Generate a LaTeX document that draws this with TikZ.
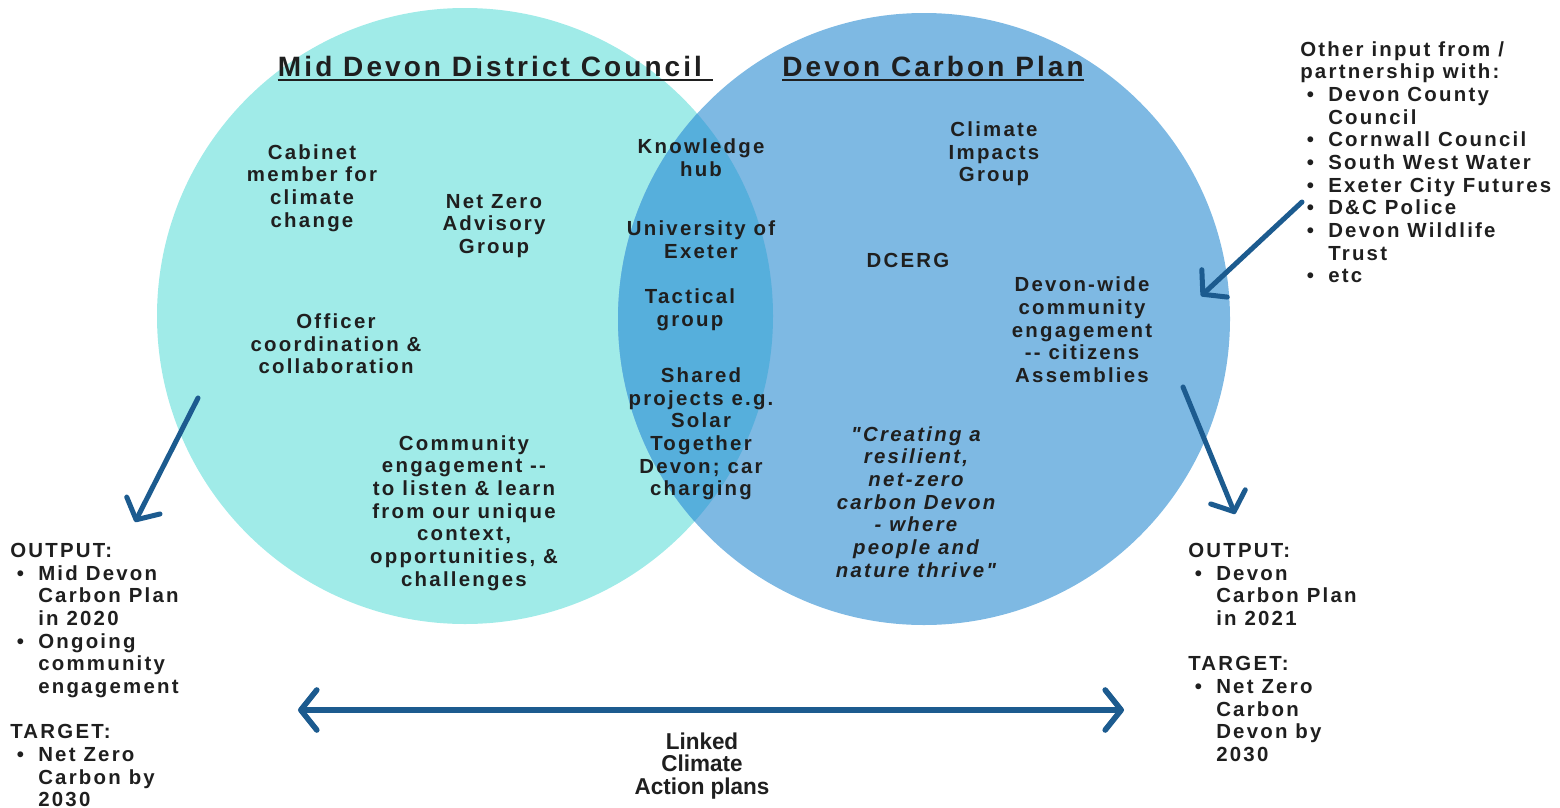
\documentclass[tikz,border=0pt]{standalone}
\usepackage{fontspec}
\setmainfont{Liberation Sans}[LetterSpace=11, Ligatures=TeXOff]
\newfontfamily\narrowfont{Liberation Sans}[FakeStretch=0.98]
\usetikzlibrary{arrows.meta}

\definecolor{leftc}{HTML}{A0EBE8}
\definecolor{rightc}{HTML}{7EB9E3}
\definecolor{overc}{HTML}{56AFDC}
\definecolor{arrowc}{HTML}{1C5B8F}
\definecolor{ink}{HTML}{1F1F1F}

% list helpers: bullet box and hanging indent
\newcommand{\itm}{\makebox[21pt][l]{\hspace{5pt}•}}
\newcommand{\ind}{\hspace*{21pt}}

\begin{document}
\begin{tikzpicture}[x=0.75pt,y=-0.75pt,
  body/.style={font=\bfseries\fontsize{15.3}{17}\selectfont, text=ink, align=center, inner sep=0pt},
  quote/.style={font=\bfseries\itshape\fontsize{15.3}{17}\selectfont, text=ink, align=center, inner sep=0pt},
  listbox/.style={font=\bfseries\fontsize{15.3}{17}\selectfont, text=ink, align=left, inner sep=0pt, anchor=north west},
  heading/.style={font=\bfseries\fontsize{21}{22}\selectfont, text=ink, inner sep=0pt, anchor=base},
  uline/.style={draw=ink, line width=2.2pt},
  linkfont/.style={font=\narrowfont\bfseries\fontsize{17.2}{17}\selectfont, text=ink, align=center, inner sep=0pt},
  arr/.style={draw=arrowc, line width=3.75pt, line cap=round,
    -{Straight Barb[length=12pt,width=28pt,round]}},
  dblarr/.style={draw=arrowc, line width=4.2pt, line cap=round,
    {Straight Barb[length=12pt,width=30pt,round]}-{Straight Barb[length=12pt,width=30pt,round]}}
]
\useasboundingbox (0,0) rectangle (1560,807);

% the two circles and their overlap
\fill[leftc] (465,316) circle[radius=231pt];
\fill[rightc] (924,319) circle[radius=229.5pt];
\begin{scope}
  \clip (465,316) circle[radius=231pt];
  \fill[overc] (924,319) circle[radius=229.5pt];
\end{scope}

% headings
\node[heading] (mddc) at (490,76) {Mid Devon District Council};
\draw[uline] ([yshift=-3pt]mddc.base west) -- ([yshift=-3pt,xshift=8pt]mddc.base east);
\node[heading] (dcp) at (933,76) {Devon Carbon Plan};
\draw[uline] ([yshift=-3pt]dcp.base west) -- ([yshift=-3pt]dcp.base east);

% left circle
\node[body] (cab) at (312,188) {Cabinet\\member for\\climate\\change};
\node[body] (nzag) at (494,226) {Net Zero\\Advisory\\Group};
\node[body] (off) at (336,344) {Officer\\coordination \&\\collaboration};
\node[body] (comm) at (464,513) {Community\\engagement --\\to listen \& learn\\from our unique\\context,\\opportunities, \&\\challenges};

% overlap
\node[body] (kh) at (701,158) {Knowledge\\hub};
\node[body] (uoe) at (701,240) {University of\\Exeter};
\node[body] (tac) at (690,310) {Tactical\\group};
\node[body] (shared) at (701,434) {Shared\\projects e.g.\\Solar\\Together\\Devon; car\\charging};

% right circle
\node[body] (cig) at (994,154) {Climate\\Impacts\\Group};
\node[body] (dcerg) at (908,260) {DCERG};
\node[body] (dwce) at (1082,330) {Devon-wide\\community\\engagement\\-- citizens\\Assemblies};
\node[quote] (vision) at (916,502) {"Creating a\\resilient,\\net-zero\\carbon Devon\\- where\\people and\\nature thrive"};

% side lists
\node[listbox] (other) at (1300,41) {Other input from /\\partnership with:\\
  \itm Devon County\\ \ind Council\\
  \itm Cornwall Council\\
  \itm South West Water\\
  \itm Exeter City Futures\\
  \itm D\&C Police\\
  \itm Devon Wildlife\\ \ind Trust\\
  \itm etc};

\node[listbox] (outl) at (10,543) {OUTPUT:\\
  \itm Mid Devon\\ \ind Carbon Plan\\ \ind in 2020\\
  \itm Ongoing\\ \ind community\\ \ind engagement\\[17pt]
  TARGET:\\
  \itm Net Zero\\ \ind Carbon by\\ \ind 2030};

\node[listbox] (outr) at (1188,543) {OUTPUT:\\
  \itm Devon\\ \ind Carbon Plan\\ \ind in 2021\\[17pt]
  TARGET:\\
  \itm Net Zero\\ \ind Carbon\\ \ind Devon by\\ \ind 2030};

\node[linkfont] (linked) at (702,766) {Linked\\Climate\\Action plans};

% arrow end points
\coordinate (al0) at (198,398);
\coordinate (al1) at (135,522);
\coordinate (ar0) at (1183,387);
\coordinate (ar1) at (1235,514);
\coordinate (ai0) at (1302,202);
\coordinate (ai1) at (1201,296);
\coordinate (lk0) at (298,710);
\coordinate (lk1) at (1124,710);

\draw[arr] (al0) -- (al1);
\draw[arr] (ar0) -- (ar1);
\draw[arr] (ai0) -- (ai1);
\draw[dblarr] (lk0) -- (lk1);
\end{tikzpicture}
\end{document}
